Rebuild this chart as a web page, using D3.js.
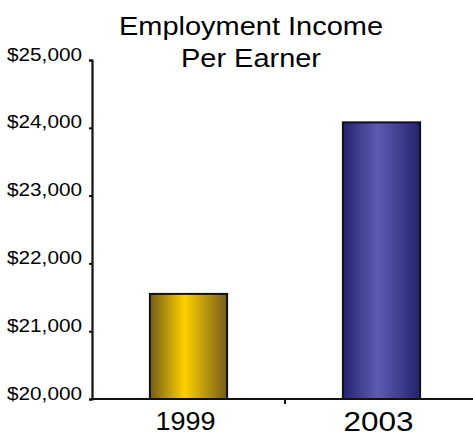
<!DOCTYPE html>
<html>
<head>
<meta charset="utf-8">
<script src="https://cdn.jsdelivr.net/npm/d3@7"></script>
<style>
  html, body { margin: 0; padding: 0; background: #fff; }
  svg { display: block; font-family: Arial, "Liberation Sans", sans-serif; }
</style>
</head>
<body>
<svg id="chart" width="473" height="436"></svg>
<script>
// Employment income per earner, two survey years
const years = ["1999", "2003"];
const incomes = [21550, 24080];
const yTicks = [20000, 21000, 22000, 23000, 24000, 25000];
const titleLines = ["Employment Income", "Per Earner"];

const svg = d3.select("#chart");
const W = 473, H = 436;
const plotLeft = 92, plotBottom = 399, plotTop = 60, plotRight = 478;

const x = d3.scaleBand().domain(years).range([plotLeft, plotRight])
  .paddingInner(0.6).paddingOuter(0.3);
const y = d3.scaleLinear().domain([20000, 25000]).range([plotBottom, plotTop]);

// Cylinder-like horizontal shading for each bar
const defs = svg.append("defs");
const shades = [
  { id: "gold", edge: "#735c1a", mid: "#ffd000" },
  { id: "blue", edge: "#24226f", mid: "#5c5cb2" }
];
shades.forEach(s => {
  const g = defs.append("linearGradient").attr("id", s.id)
    .attr("x1", "0%").attr("x2", "100%").attr("y1", "0%").attr("y2", "0%");
  g.append("stop").attr("offset", "0%").attr("stop-color", s.edge);
  g.append("stop").attr("offset", "45%").attr("stop-color", s.mid);
  g.append("stop").attr("offset", "100%").attr("stop-color", s.edge);
});

// Title
svg.append("text")
  .attr("x", 251).attr("y", 35)
  .attr("text-anchor", "middle")
  .attr("font-size", 26)
  .attr("textLength", 264).attr("lengthAdjust", "spacingAndGlyphs")
  .attr("fill", "#000")
  .text(titleLines[0]);
svg.append("text")
  .attr("x", 251).attr("y", 67)
  .attr("text-anchor", "middle")
  .attr("font-size", 26)
  .attr("textLength", 140).attr("lengthAdjust", "spacingAndGlyphs")
  .attr("fill", "#000")
  .text(titleLines[1]);

// Bars
svg.selectAll("rect.bar")
  .data(years)
  .join("rect")
  .attr("class", "bar")
  .attr("x", d => x(d))
  .attr("width", x.bandwidth())
  .attr("y", (d, i) => y(incomes[i]))
  .attr("height", (d, i) => plotBottom - y(incomes[i]))
  .attr("fill", (d, i) => `url(#${shades[i].id})`)
  .attr("stroke", "#111")
  .attr("stroke-width", 2);

// Y axis: labels sit just above their tick marks
const yAxis = d3.axisLeft(y)
  .tickValues(yTicks)
  .tickSize(3)
  .tickPadding(7)
  .tickFormat(d => "$" + d3.format(",")(d));
const yg = svg.append("g").attr("transform", `translate(${plotLeft},0)`).call(yAxis);
yg.select(".domain").attr("stroke", "#111").attr("stroke-width", 2.2);
yg.selectAll(".tick line").attr("stroke", "#111").attr("stroke-width", 2);
yg.selectAll(".tick text")
  .attr("font-size", 18.5)
  .attr("fill", "#000")
  .attr("textLength", 75).attr("lengthAdjust", "spacingAndGlyphs")
  .attr("dy", "0em");

// X axis: baseline with a tick between categories
svg.append("line")
  .attr("x1", plotLeft).attr("x2", W)
  .attr("y1", plotBottom).attr("y2", plotBottom)
  .attr("stroke", "#111").attr("stroke-width", 2.2);
svg.append("line")
  .attr("x1", x(years[1]) - x.step() * x.paddingInner() / 2)
  .attr("x2", x(years[1]) - x.step() * x.paddingInner() / 2)
  .attr("y1", plotBottom).attr("y2", plotBottom + 5)
  .attr("stroke", "#111").attr("stroke-width", 2);

// Category labels
const labelSizes = [26, 27];
const labelLens = [60, 70];
svg.selectAll("text.cat")
  .data(years)
  .join("text")
  .attr("class", "cat")
  .attr("x", d => x(d) + x.bandwidth() / 2 - 3)
  .attr("y", (d, i) => i === 0 ? 430 : 431)
  .attr("text-anchor", "middle")
  .attr("font-size", (d, i) => labelSizes[i])
  .attr("textLength", (d, i) => labelLens[i]).attr("lengthAdjust", "spacingAndGlyphs")
  .attr("fill", "#000")
  .text(d => d);
</script>
</body>
</html>
